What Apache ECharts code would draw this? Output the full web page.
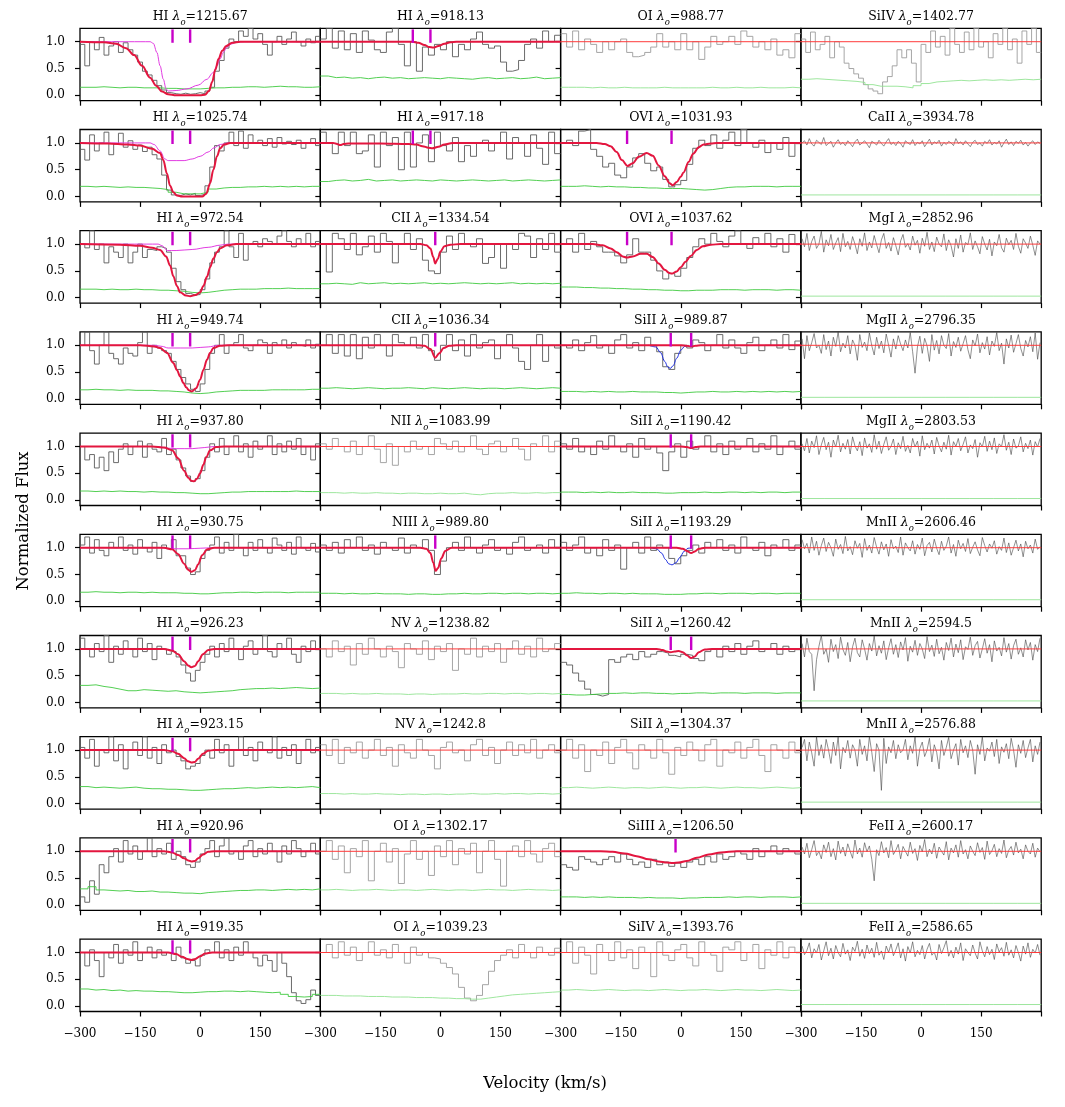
<!DOCTYPE html>
<html>
<head>
<meta charset="utf-8">
<script src="https://cdn.jsdelivr.net/npm/echarts@6/dist/echarts.min.js"></script>
<style>
  html, body { margin: 0; padding: 0; background: #fff; }
  #chart { width: 1065px; height: 1107px; }
</style>
</head>
<body>
<div id="chart"></div>
<script>
// flux values are in percent of continuum; bins run evenly from -300 to +300 km/s
// ---- column 1 : HI series ----
const flux_HI1215 = [95,55,100,85,108,75,92,100,80,98, 85,75,62,45,38,28,18,10,5,3, 2,4,2,3,5,3,8,15,45,65, 88,105,100,120,110,125,105,115,95,75, 100,110,95,105,118,100,92,105,98,110];
const err_HI1215 = [15,15,16,15,14,15,15,14,14,14,13,13,12,12,12,13,14,14,15,15,16,16,15,16,17,16,16,15,15,16];
const fit_HI1215 = [[-300,100],[-240,99],[-210,96],[-185,88],[-165,75],[-145,55],[-125,33],[-110,18],[-95,7],[-80,2],[-60,0],[0,0],[12,1],[22,8],[30,25],[38,48],[46,68],[55,83],[65,92],[80,98],[100,100],[300,100]];
const comp_HI1215 = [[-300,100],[-125,100],[-117,97],[-108,80],[-100,55],[-92,30],[-85,12],[-80,8],[-60,9],[-33,12],[-5,19],[17,30],[32,42],[42,55],[50,68],[58,80],[66,89],[75,95],[90,99],[110,100],[300,100]];

const flux_HI1025 = [88,68,115,85,100,120,78,98,118,92, 104,88,96,84,92,78,70,40,12,3, 2,5,3,6,2,4,20,55,95,85, 100,120,95,122,90,115,100,105,95,108, 92,110,98,103,97,105,90,100,108,95];
const err_HI1025 = [19,18,19,18,17,18,17,17,16,15,13,8,5,5,5,8,14,16,17,17,18,18,19,18,19,18,19,18,19,19];
const fit_HI1025 = [[-300,100],[-230,99],[-180,97],[-150,95],[-120,89],[-100,81],[-92,68],[-83,43],[-75,20],[-67,8],[-58,2],[-45,0],[5,0],[15,5],[25,25],[33,50],[42,75],[50,90],[60,97],[75,100],[300,100]];
const comp_HI1025 = [[-300,100],[-125,100],[-115,97],[-100,85],[-88,70],[-80,67],[-40,67],[-20,70],[0,75],[20,83],[35,91],[50,97],[70,100],[300,100]];

const flux_HI972 = [100,93,125,90,100,65,95,85,75,100, 65,85,100,75,90,88,95,92,85,55, 30,15,8,5,6,15,35,65,85,95, 125,95,75,120,70,100,105,95,110,105, 100,115,125,105,95,110,100,120,95,105];
const err_HI972 = [16,16,15,16,15,15,16,15,15,14,14,13,12,10,9,10,12,14,15,16,16,16,17,17,17,18,17,17,17,17];
const fit_HI972 = [[-300,100],[-200,99],[-150,97],[-120,93],[-100,89],[-85,77],[-75,60],[-67,40],[-58,22],[-50,10],[-35,4],[-25,3],[-12,5],[0,10],[8,22],[17,39],[25,57],[33,73],[42,85],[50,92],[67,98],[90,100],[300,100]];
const comp_HI972 = [[-300,100],[-105,100],[-95,97],[-82,88],[-60,88],[-20,90],[20,94],[50,98],[70,100],[300,100]];

const flux_HI949 = [100,125,90,65,100,125,85,75,65,95, 85,80,105,125,85,100,95,90,85,70, 55,40,28,18,14,28,55,85,100,120, 85,100,105,120,95,90,100,110,105,85, 105,100,110,95,105,100,98,110,95,102];
const err_HI949 = [17,18,17,17,16,17,16,16,16,15,15,14,13,11,10,11,13,14,15,16,16,16,16,17,17,17,17,17,18,18];
const fit_HI949 = [[-300,100],[-150,100],[-115,98],[-100,95],[-83,86],[-67,67],[-58,54],[-50,42],[-42,30],[-35,22],[-28,16],[-21,14],[-10,20],[0,36],[8,54],[17,73],[25,86],[33,95],[50,99],[70,100],[300,100]];
const comp_HI949 = [[-300,100],[-115,100],[-95,98],[-80,95],[-20,95],[20,97],[45,100],[300,100]];

const flux_HI937 = [100,75,85,60,80,55,90,70,95,105, 85,100,110,80,105,95,90,115,85,95, 75,60,45,35,40,55,80,105,90,115, 85,100,120,90,105,80,110,95,100,120, 85,105,90,110,95,115,85,100,75,105];
const err_HI937 = [17,16,17,16,17,16,16,15,16,15,15,14,14,13,12,12,13,14,15,15,16,16,16,16,16,16,17,16,16,16];
const fit_HI937 = [[-300,100],[-120,100],[-90,98],[-70,93],[-55,78],[-40,55],[-30,42],[-22,36],[-15,35],[-8,40],[0,50],[8,66],[15,80],[25,93],[40,99],[60,100],[300,100]];
const comp_HI937 = [[-300,100],[-105,100],[-85,97],[-60,96],[-20,96],[10,98],[35,100],[300,100]];

const flux_HI930 = [105,120,90,115,95,85,110,100,120,95, 105,88,115,100,92,110,80,105,98,115, 85,85,62,50,55,80,95,105,120,90, 110,95,125,100,85,110,95,115,100,90, 118,105,95,110,88,120,100,95,108,92];
const err_HI930 = [17,18,17,17,16,17,17,16,17,16,16,16,15,15,14,14,15,16,16,17,17,16,17,17,17,16,17,17,17,17];
const fit_HI930 = [[-300,100],[-90,100],[-70,97],[-55,88],[-40,70],[-30,59],[-22,55],[-13,58],[-5,69],[5,86],[18,97],[35,100],[300,100]];
const comp_HI930 = [[-300,100],[-95,100],[-80,98],[-30,98],[0,99],[30,100],[300,100]];

const flux_HI926 = [120,100,85,110,95,125,75,105,90,115, 100,85,120,95,110,80,105,100,90,95, 85,70,55,40,60,75,90,105,85,110, 95,120,100,80,105,115,90,100,125,95, 85,110,100,120,90,75,105,95,115,100];
const err_HI926 = [32,33,30,28,25,22,22,24,23,22,21,22,20,19,18,19,20,21,22,24,25,26,26,27,26,27,28,27,26,27];
const fit_HI926 = [[-300,100],[-90,100],[-70,97],[-55,90],[-40,77],[-30,69],[-22,66],[-13,68],[-5,77],[7,90],[20,98],[35,100],[300,100]];

const flux_HI923 = [105,85,120,70,100,95,125,80,110,65, 100,115,90,125,85,105,75,110,95,100, 88,80,65,70,75,90,100,85,120,95, 110,70,100,125,90,105,80,115,100,95, 125,85,105,90,110,75,100,120,95,105];
const err_HI923 = [32,30,31,30,29,30,31,29,28,28,27,27,26,25,25,26,27,28,28,29,30,29,30,31,30,31,30,31,32,30];
const fit_HI923 = [[-300,100],[-90,100],[-70,98],[-55,93],[-40,85],[-30,79],[-22,77],[-13,78],[-5,84],[7,93],[20,99],[35,100],[300,100]];

const flux_HI920 = [15,5,45,20,75,60,90,105,80,120, 95,110,85,100,125,90,105,95,115,85, 100,90,75,70,80,95,105,120,90,110, 125,95,100,85,110,120,90,105,95,115, 100,80,110,95,120,105,90,100,115,95];
const err_HI920 = [30,34,28,27,26,27,25,25,26,24,24,23,22,22,21,23,24,25,26,27,27,28,28,27,28,29,28,29,28,30];
const fit_HI920 = [[-300,100],[-90,100],[-70,98],[-55,93],[-40,87],[-30,83],[-22,81],[-13,82],[-5,87],[7,94],[20,99],[35,100],[300,100]];

const flux_HI919 = [100,75,105,85,55,100,90,115,80,105, 95,120,85,100,110,90,105,95,100,85, 110,90,80,85,75,95,105,100,120,90, 105,85,110,95,120,100,90,75,95,85, 65,100,80,55,25,10,5,12,30,20];
const err_HI919 = [32,30,31,29,30,28,29,28,28,27,27,26,25,25,26,27,27,28,28,27,28,27,26,25,26,22,18,17,18,22];
const fit_HI919 = [[-300,100],[-80,100],[-60,97],[-45,92],[-32,88],[-22,86],[-12,88],[0,93],[12,98],[30,100],[300,100]];

// ---- column 2 ----
const flux_HI918 = [105,125,88,120,85,115,80,120,103,85, 80,118,125,95,55,100,45,90,75,95, 85,100,72,95,85,105,118,95,88,92, 62,45,48,65,95,105,88,120,100,112];
const err_HI918 = [36,33,34,32,33,31,33,34,32,33,31,32,33,32,31,33,32,31,30,32,33,31,32,33,31,32,34,31,32,33];
const fit_HI918 = [[-300,100],[-70,100],[-55,98],[-40,94],[-28,90],[-18,89],[-5,92],[10,96],[25,99],[40,100],[300,100]];

const flux_HI917 = [120,100,80,120,95,120,80,85,115,55, 120,95,110,50,120,55,100,115,65,120, 95,85,110,65,95,75,100,105,85,100, 120,70,110,100,75,115,90,60,120,80];
const err_HI917 = [28,30,31,29,30,32,29,30,31,29,30,31,30,29,31,30,29,30,31,30,29,30,31,29,30,31,30,29,30,31];
const fit_HI917 = [[-300,100],[-268,100],[-258,98],[-250,96],[-242,98],[-230,99],[-150,99],[-80,98],[-60,97],[-45,94],[-30,91],[-20,90],[-5,93],[10,97],[30,100],[300,100]];

const flux_CII1334 = [100,48,120,110,90,120,80,95,115,85, 120,105,65,100,120,90,110,70,50,45, 85,115,90,120,100,95,110,64,75,100, 55,100,90,120,115,75,110,90,120,85];
const err_CII1334 = [26,27,26,25,28,26,27,28,26,27,26,27,28,26,27,26,27,28,27,26,27,26,27,28,26,27,26,27,26,27];
const fit_CII1334 = [[-300,100],[-50,100],[-35,98],[-25,92],[-18,76],[-13,64],[-7,72],[0,86],[10,96],[25,99],[50,100],[300,100]];

const flux_CII1036 = [100,120,85,120,80,120,75,115,95,120, 100,80,120,105,100,115,95,120,90,72, 100,120,90,110,80,120,95,105,110,75, 100,120,95,70,55,100,120,70,100,95];
const err_CII1036 = [20,21,20,19,20,21,20,19,20,20,21,20,19,21,20,19,20,21,20,19,20,20,19,20,21,20,19,20,21,20];
const fit_CII1036 = [[-300,100],[-55,100],[-40,99],[-25,93],[-13,77],[-3,85],[8,95],[22,99],[40,100],[300,100]];

const flux_NII1083 = [105,95,115,100,90,110,85,100,120,95, 70,105,65,100,90,110,95,100,85,115, 105,95,110,90,100,120,95,85,105,110, 90,100,115,95,75,105,100,120,90,110];
const err_NII1083 = [14,14,13,14,13,13,14,13,13,12,13,13,12,12,13,12,12,13,11,10,12,13,13,14,13,13,14,13,14,14];

const flux_NIII989 = [105,95,110,90,115,100,120,95,105,88, 110,100,95,118,90,105,100,115,95,50, 75,100,110,95,120,100,90,105,115,95, 100,88,110,120,95,100,105,90,115,100];
const err_NIII989 = [15,15,14,15,14,14,15,14,14,14,13,14,14,13,13,14,14,15,14,14,15,15,14,15,15,14,15,15,14,15];
const fit_NIII989 = [[-300,100],[-50,100],[-35,98],[-25,90],[-18,72],[-12,57],[-6,62],[2,80],[12,94],[28,100],[300,100]];

const flux_NV1238 = [100,85,115,95,105,70,110,90,120,100, 85,105,95,65,110,100,90,115,80,105, 95,110,60,100,90,120,85,105,95,110, 75,100,115,90,105,85,120,95,100,110];
const err_NV1238 = [17,17,16,17,16,16,17,16,16,16,15,16,16,15,16,16,16,17,16,16,17,17,16,17,17,16,17,17,16,17];

const flux_NV1242 = [110,90,120,75,105,95,115,85,100,120, 90,105,70,110,95,85,120,100,90,65, 105,115,95,100,80,110,120,90,105,75, 100,115,90,110,95,120,85,100,110,95];
const err_NV1242 = [19,19,18,19,18,18,19,18,18,17,18,18,17,18,18,17,18,18,19,18,18,19,18,19,19,18,19,19,18,19];

const flux_OI1302 = [100,120,85,110,60,105,90,120,45,100, 115,80,105,40,95,120,85,100,55,110, 90,120,75,105,95,115,60,100,120,85, 35,100,110,90,120,95,80,105,115,90];
const err_OI1302 = [28,29,28,27,28,28,29,28,27,28,28,27,28,29,28,27,28,28,27,28,29,28,28,27,28,29,28,28,27,28];

const flux_OI1039 = [100,115,90,120,95,110,85,100,120,95, 105,90,115,100,80,110,95,100,90,88, 80,72,60,35,15,10,20,40,65,85, 95,105,90,115,100,90,110,100,95,108];
const err_OI1039 = [20,20,19,19,19,18,18,18,17,17,17,16,16,16,15,15,14,14,13,13,15,17,19,21,22,23,24,25,26,27];

// ---- column 3 ----
const flux_OI988 = [115,90,120,85,105,95,80,100,85,100, 105,80,72,75,80,90,115,90,100,85, 115,85,100,67,90,110,95,100,110,95, 120,110,90,100,85,105,75,85,70,115];
const err_OI988 = [15,15,15,14,15,14,14,15,14,14,14,14,15,14,14,14,14,14,15,14,14,15,14,14,15,14,14,14,15,14];

const flux_OVI1031 = [100,105,95,122,125,88,75,55,62,40, 35,55,72,80,62,48,55,32,18,22, 30,60,90,105,95,115,90,105,120,95, 125,100,92,105,82,100,88,110,75,100];
const err_OVI1031 = [19,19,20,19,18,19,18,18,17,17,16,16,15,15,15,14,13,12,13,15,17,18,18,19,19,19,18,19,19,19];
const fit_OVI1031 = [[-300,100],[-210,100],[-190,98],[-175,94],[-160,83],[-147,68],[-133,57],[-120,62],[-105,74],[-85,81],[-70,76],[-55,58],[-40,38],[-28,25],[-20,21],[-10,27],[0,37],[7,45],[20,65],[31,80],[45,92],[57,97],[75,99],[90,100],[300,100]];

const flux_OVI1037 = [100,110,85,120,90,105,95,85,85,78, 65,80,110,85,85,70,50,35,45,40, 55,75,95,110,100,120,105,95,115,125, 100,92,112,100,120,95,110,85,118,100];
const err_OVI1037 = [20,20,19,19,18,18,17,17,16,16,15,15,14,14,13,13,14,14,14,15,15,15,14,15,15,15,14,15,15,14];
const fit_OVI1037 = [[-300,100],[-220,100],[-195,98],[-175,92],[-160,85],[-145,77],[-135,75],[-120,77],[-100,82],[-85,82],[-70,76],[-55,64],[-40,52],[-28,46],[-22,45],[-10,49],[0,57],[12,67],[25,78],[40,89],[55,96],[75,99],[100,100],[300,100]];

const flux_SiII989 = [100,95,110,90,105,118,95,100,85,110, 120,95,105,90,115,100,88,60,55,85, 100,95,110,105,90,100,120,95,110,95, 85,105,115,90,100,110,95,120,92,108];
const err_SiII989 = [14,14,13,14,13,14,13,13,14,13,13,13,12,12,11,12,13,13,14,13,13,14,13,14,13,14,13,14,13,14];
const fit_SiII989 = [[-300,100],[0,100],[15,99],[26,98],[37,99],[50,100],[300,100]];
const blue_SiII989 = [[-80,100],[-62,97],[-50,86],[-40,70],[-32,59],[-26,57],[-19,62],[-10,76],[0,91],[10,98],[20,100]];

const flux_SiII1190 = [105,95,115,90,100,85,110,95,120,100, 90,105,80,115,95,100,88,55,90,105, 80,110,95,100,120,90,105,85,110,95, 100,115,90,105,95,120,85,100,110,95];
const err_SiII1190 = [15,15,14,15,14,15,14,14,15,14,14,14,13,13,14,14,14,15,14,14,15,15,14,15,14,15,15,14,15,15];
const fit_SiII1190 = [[-300,100],[0,100],[15,99],[26,97],[37,99],[50,100],[300,100]];

const flux_SiII1193 = [110,95,105,120,90,100,85,115,95,105, 60,100,110,90,120,95,105,100,80,70, 85,95,105,90,110,100,115,95,105,90, 120,100,95,110,85,105,100,115,95,105];
const err_SiII1193 = [15,16,15,15,14,15,15,14,15,14,14,14,13,13,13,14,14,15,15,14,15,15,15,14,15,15,14,15,15,15];
const fit_SiII1193 = [[-300,100],[-10,100],[5,98],[15,94],[26,90],[35,93],[45,98],[60,100],[300,100]];
const blue_SiII1193 = [[-75,100],[-60,98],[-48,90],[-38,78],[-30,70],[-22,68],[-12,72],[-2,82],[8,93],[18,99],[28,100]];

const flux_SiII1260 = [75,70,55,40,25,15,12,15,80,75, 85,90,80,95,85,90,95,92,88,85, 90,88,82,78,95,100,85,105,95,110, 90,105,115,95,100,110,90,105,95,100];
const err_SiII1260 = [15,14,14,15,16,17,17,18,17,18,18,17,17,16,17,17,18,18,17,18,18,18,17,18,18,18,17,18,18,18];
const fit_SiII1260 = [[-300,100],[-60,100],[-45,98],[-35,95],[-25,94],[-15,95],[-5,96],[5,94],[15,88],[26,83],[35,86],[45,94],[60,99],[80,100],[300,100]];

const flux_SiII1304 = [100,120,85,110,60,100,90,115,75,105, 120,95,65,110,100,85,120,95,55,105, 90,115,100,80,110,120,70,100,95,115, 85,105,120,90,60,110,100,85,115,95];
const err_SiII1304 = [30,31,30,29,30,31,30,29,30,30,29,30,31,30,29,30,30,31,30,29,30,31,30,30,29,30,31,30,29,30];

const flux_SiIII1206 = [75,70,65,90,85,80,75,85,90,80, 95,85,75,80,70,85,75,80,72,78, 70,80,85,75,90,80,95,85,90,100, 95,85,105,90,100,110,95,105,100,95];
const err_SiIII1206 = [15,15,14,15,14,15,14,14,14,13,14,13,13,13,12,13,13,14,14,14,15,14,15,15,14,15,15,15,14,15];
const fit_SiIII1206 = [[-300,100],[-200,100],[-170,99],[-140,96],[-110,91],[-80,85],[-55,81],[-35,79],[-20,78],[-5,79],[15,82],[40,88],[70,94],[100,98],[140,100],[300,100]];

const flux_SiIV1393 = [100,120,80,110,95,60,115,100,85,120, 90,105,70,110,100,55,120,95,85,105, 115,90,75,120,100,95,65,110,105,120, 85,100,115,70,105,95,120,90,110,100];
const err_SiIV1393 = [30,31,30,29,30,31,30,29,30,30,29,30,31,30,29,30,30,31,30,29,30,31,30,30,29,30,31,30,29,30];

// ---- column 4 ----
const flux_SiIV1402 = [105,80,118,85,95,110,70,100,90,60, 50,40,32,20,12,8,3,25,35,55, 85,70,85,60,25,95,80,120,90,110, 75,125,95,80,118,85,125,90,100,70, 115,95,125,85,105,60,120,95,125,80];
const err_SiIV1402 = [30,31,30,29,28,27,26,24,20,17,17,17,16,14,18,22,25,26,27,28,27,28,29,28,29,28,29,30,29,30];

const flux_CaII3934 = [100,104,96,108,98,94,105,101,97,110, 95,99,103,92,100,106,97,101,95,104, 99,93,102,107,96,100,104,98,91,103, 100,96,105,99,94,102,108,97,101,95, 103,99,92,104,100,97,106,95,101,98, 104,93,100,107,96,102,99,105,94,101, 97,103,100,95,108,99,102,96,104,98, 93,101,105,97,100,94,103,99,106,96, 101,98,104,92,100,107,97,102,95,103, 99,105,96,101,94,100,104,97,102,99];
const err_CaII3934 = [3,3,3,3,3,3,3,3,3,3];

const flux_MgI2852 = [110,95,120,88,105,115,92,100,124,85, 108,97,118,90,102,112,86,120,95,105, 90,114,100,82,110,96,121,88,104,93, 116,99,84,108,120,92,103,87,112,97, 80,106,118,94,101,89,115,98,107,83, 111,96,122,90,104,86,113,100,95,119, 88,108,97,76,110,92,117,85,103,99, 121,90,106,95,82,114,100,89,109,78, 104,97,118,93,85,111,99,107,90,120, 96,83,110,102,92,115,98,79,106,100];
const err_MgI2852 = [3,3,3,3,3,3,3,3,3,3];

const flux_MgII2796 = [112,75,118,90,105,122,95,100,85,120, 92,108,80,115,98,125,88,104,95,118, 84,110,100,72,120,96,106,90,123,99, 82,115,94,108,86,121,100,78,112,93, 118,102,90,110,95,124,88,48,97,117, 85,113,99,70,120,91,109,84,118,100, 94,122,80,107,96,115,89,103,118,92, 75,110,99,121,86,105,93,116,82,108, 98,124,90,104,65,112,95,119,87,103, 120,94,80,109,97,116,88,123,74,105];
const err_MgII2796 = [3,3,3,3,3,3,3,3,3,3];

const flux_MgII2803 = [105,92,115,88,110,98,120,85,103,117, 94,108,80,112,99,121,90,106,95,113, 86,118,101,92,109,83,116,97,105,89, 122,95,110,87,104,118,93,100,114,85, 107,96,119,91,102,88,115,99,110,82, 120,94,106,97,112,86,117,101,90,108, 95,121,84,109,100,115,92,104,118,88, 103,96,113,80,107,99,119,91,110,94, 116,87,105,100,122,93,108,85,114,97, 101,118,90,106,96,112,84,109,99,115];
const err_MgII2803 = [3,3,3,3,3,3,3,3,3,3];

const flux_MnII2606 = [115,98,108,90,120,95,112,86,104,118, 93,110,100,84,116,97,106,89,121,94, 102,87,113,99,108,82,117,95,105,90, 119,101,88,111,96,107,84,115,98,103, 91,120,86,109,100,94,113,88,106,97, 118,85,104,110,92,116,99,87,112,95, 103,120,90,106,84,114,98,108,93,117, 89,101,111,96,85,119,104,92,107,99, 113,88,102,95,118,91,109,86,100,114, 94,107,83,112,98,105,90,116,97,102];
const err_MnII2606 = [3,3,3,3,3,3,3,3,3,3];

const flux_MnII2594 = [110,85,120,95,90,22,80,105,125,90, 100,75,118,95,108,82,122,99,88,112, 76,104,120,93,85,117,100,79,110,96, 124,87,106,92,115,80,102,119,90,108, 84,113,98,121,77,105,94,116,88,110, 100,82,123,95,107,86,118,91,103,79, 112,97,120,85,109,93,117,80,104,99, 122,88,106,114,83,100,119,92,108,76, 115,96,103,87,121,94,110,81,106,118, 90,102,85,117,98,112,79,108,95,120];
const err_MnII2594 = [3,3,3,3,3,3,3,3,3,3];

const flux_MnII2576 = [105,120,80,115,95,70,125,90,110,85, 120,100,75,115,90,125,65,105,95,118, 85,110,100,70,120,92,108,80,125,96, 60,112,100,25,122,75,106,95,118,84, 110,95,100,120,82,108,94,125,70,103, 115,88,100,122,78,110,96,65,118,90, 105,124,84,100,112,72,120,95,108,86, 118,100,55,110,92,125,80,104,98,115, 88,120,75,106,96,112,84,122,100,68, 110,94,118,86,104,120,78,108,92,115];
const err_MnII2576 = [3,3,3,3,3,3,3,3,3,3];

const flux_FeII2600 = [108,95,115,88,103,120,92,100,86,112, 98,117,90,105,84,119,96,108,91,114, 100,87,121,95,106,89,116,99,110,85, 45,103,92,118,97,107,88,120,94,102, 113,86,109,100,91,117,96,105,83,111, 99,122,90,104,95,115,87,108,100,93, 118,84,106,97,112,89,120,95,103,86, 110,100,92,116,98,107,85,119,94,101, 113,90,105,96,121,88,102,109,93,117, 97,104,86,112,100,95,115,89,106,99];
const err_FeII2600 = [3,3,3,3,3,3,3,3,3,3];

const flux_FeII2586 = [112,96,104,118,90,107,99,115,86,103, 120,94,108,88,113,100,92,117,97,105, 85,110,102,121,93,106,89,114,98,108, 91,119,95,103,87,112,100,116,94,105, 118,90,107,84,111,99,120,92,104,96, 113,88,106,117,95,101,86,115,98,109, 122,93,104,90,110,97,118,85,107,100, 94,114,99,88,120,103,92,111,96,106, 87,116,101,109,93,119,95,105,90,113, 100,84,112,97,118,91,106,99,115,95];
const err_FeII2586 = [3,3,3,3,3,3,3,3,3,3];

// component velocities marked with ticks
const ticks_HI = [-69, -25];
const ticks_low = [-13];
const ticks_OVI = [-134, -23];
const ticks_SiII = [-25, 26];

// panel table, row by row (ion, rest wavelength, data)
const panels = [
  { ion: 'HI', wave: '1215.67', flux: flux_HI1215, err: err_HI1215, fit: fit_HI1215, comps: [comp_HI1215], ticks: ticks_HI },
  { ion: 'HI', wave: '918.13', flux: flux_HI918, err: err_HI918, fit: fit_HI918, ticks: ticks_HI },
  { ion: 'OI', wave: '988.77', flux: flux_OI988, err: err_OI988 },
  { ion: 'SiIV', wave: '1402.77', flux: flux_SiIV1402, err: err_SiIV1402 },

  { ion: 'HI', wave: '1025.74', flux: flux_HI1025, err: err_HI1025, fit: fit_HI1025, comps: [comp_HI1025], ticks: ticks_HI },
  { ion: 'HI', wave: '917.18', flux: flux_HI917, err: err_HI917, fit: fit_HI917, ticks: ticks_HI },
  { ion: 'OVI', wave: '1031.93', flux: flux_OVI1031, err: err_OVI1031, fit: fit_OVI1031, ticks: ticks_OVI },
  { ion: 'CaII', wave: '3934.78', flux: flux_CaII3934, err: err_CaII3934, dense: true },

  { ion: 'HI', wave: '972.54', flux: flux_HI972, err: err_HI972, fit: fit_HI972, comps: [comp_HI972], ticks: ticks_HI },
  { ion: 'CII', wave: '1334.54', flux: flux_CII1334, err: err_CII1334, fit: fit_CII1334, ticks: ticks_low },
  { ion: 'OVI', wave: '1037.62', flux: flux_OVI1037, err: err_OVI1037, fit: fit_OVI1037, ticks: ticks_OVI },
  { ion: 'MgI', wave: '2852.96', flux: flux_MgI2852, err: err_MgI2852, dense: true },

  { ion: 'HI', wave: '949.74', flux: flux_HI949, err: err_HI949, fit: fit_HI949, comps: [comp_HI949], ticks: ticks_HI },
  { ion: 'CII', wave: '1036.34', flux: flux_CII1036, err: err_CII1036, fit: fit_CII1036, ticks: ticks_low },
  { ion: 'SiII', wave: '989.87', flux: flux_SiII989, err: err_SiII989, fit: fit_SiII989, blue: blue_SiII989, ticks: ticks_SiII },
  { ion: 'MgII', wave: '2796.35', flux: flux_MgII2796, err: err_MgII2796, dense: true },

  { ion: 'HI', wave: '937.80', flux: flux_HI937, err: err_HI937, fit: fit_HI937, comps: [comp_HI937], ticks: ticks_HI },
  { ion: 'NII', wave: '1083.99', flux: flux_NII1083, err: err_NII1083 },
  { ion: 'SiII', wave: '1190.42', flux: flux_SiII1190, err: err_SiII1190, fit: fit_SiII1190, ticks: ticks_SiII },
  { ion: 'MgII', wave: '2803.53', flux: flux_MgII2803, err: err_MgII2803, dense: true },

  { ion: 'HI', wave: '930.75', flux: flux_HI930, err: err_HI930, fit: fit_HI930, comps: [comp_HI930], ticks: ticks_HI },
  { ion: 'NIII', wave: '989.80', flux: flux_NIII989, err: err_NIII989, fit: fit_NIII989, ticks: ticks_low },
  { ion: 'SiII', wave: '1193.29', flux: flux_SiII1193, err: err_SiII1193, fit: fit_SiII1193, blue: blue_SiII1193, ticks: ticks_SiII },
  { ion: 'MnII', wave: '2606.46', flux: flux_MnII2606, err: err_MnII2606, dense: true },

  { ion: 'HI', wave: '926.23', flux: flux_HI926, err: err_HI926, fit: fit_HI926, ticks: ticks_HI },
  { ion: 'NV', wave: '1238.82', flux: flux_NV1238, err: err_NV1238 },
  { ion: 'SiII', wave: '1260.42', flux: flux_SiII1260, err: err_SiII1260, fit: fit_SiII1260, ticks: ticks_SiII },
  { ion: 'MnII', wave: '2594.5', flux: flux_MnII2594, err: err_MnII2594, dense: true },

  { ion: 'HI', wave: '923.15', flux: flux_HI923, err: err_HI923, fit: fit_HI923, ticks: ticks_HI },
  { ion: 'NV', wave: '1242.8', flux: flux_NV1242, err: err_NV1242 },
  { ion: 'SiII', wave: '1304.37', flux: flux_SiII1304, err: err_SiII1304 },
  { ion: 'MnII', wave: '2576.88', flux: flux_MnII2576, err: err_MnII2576, dense: true },

  { ion: 'HI', wave: '920.96', flux: flux_HI920, err: err_HI920, fit: fit_HI920, ticks: ticks_HI },
  { ion: 'OI', wave: '1302.17', flux: flux_OI1302, err: err_OI1302 },
  { ion: 'SiIII', wave: '1206.50', flux: flux_SiIII1206, err: err_SiIII1206, fit: fit_SiIII1206, ticks: ticks_low },
  { ion: 'FeII', wave: '2600.17', flux: flux_FeII2600, err: err_FeII2600, dense: true },

  { ion: 'HI', wave: '919.35', flux: flux_HI919, err: err_HI919, fit: fit_HI919, ticks: ticks_HI },
  { ion: 'OI', wave: '1039.23', flux: flux_OI1039, err: err_OI1039 },
  { ion: 'SiIV', wave: '1393.76', flux: flux_SiIV1393, err: err_SiIV1393 },
  { ion: 'FeII', wave: '2586.65', flux: flux_FeII2586, err: err_FeII2586, dense: true }
];

const SERIF = '"DejaVu Serif", "Liberation Serif", serif';
const LEFT0 = 80, COL_W = 240.3, TOP0 = 28.3, ROW_STEP = 101.2, PANEL_H = 72.4;
const NROWS = 10;

// histogram -> points for a step line (value holds over each bin)
function toSteps(vals) {
  const dv = 600 / vals.length;
  const pts = vals.map((f, i) => [-300 + i * dv, f / 100]);
  pts.push([300, vals[vals.length - 1] / 100]);
  return pts;
}
// dense spectra: one point per pixel centre
function toPixels(vals) {
  const dv = 600 / vals.length;
  return vals.map((f, i) => [-300 + (i + 0.5) * dv, f / 100]);
}
function toCurve(pairs) {
  return pairs.map(p => [p[0], p[1] / 100]);
}
function minus(v) {
  return String(v).replace('-', '\u2212');
}

const grids = [], xAxes = [], yAxes = [], titles = [], series = [];

panels.forEach((p, i) => {
  const row = Math.floor(i / 4), col = i % 4;
  const left = LEFT0 + col * COL_W;
  const top = TOP0 + row * ROW_STEP;
  const hasFit = !!p.fit;

  grids.push({ left: left, top: top, width: COL_W, height: PANEL_H, show: true,
    borderColor: '#000', borderWidth: 1.3, backgroundColor: 'transparent', containLabel: false });

  xAxes.push({
    type: 'value', gridIndex: i, min: -300, max: 300,
    axisLine: { show: false, onZero: false },
    axisTick: { show: true, customValues: [-300, -150, 0, 150, 300], length: 5,
      lineStyle: { color: '#000', width: 1.2 } },
    axisLabel: { show: row === NROWS - 1, customValues: [-300, -150, 0, 150],
      formatter: v => minus(v), fontFamily: SERIF, fontSize: 12, color: '#000', margin: 16 },
    splitLine: { show: false }
  });
  yAxes.push({
    type: 'value', gridIndex: i, min: -0.1, max: 1.25,
    axisLine: { show: false, onZero: false },
    axisTick: { show: true, customValues: [0, 0.5, 1], length: 5,
      lineStyle: { color: '#000', width: 1.2 } },
    axisLabel: { show: col === 0, customValues: [0, 0.5, 1],
      formatter: v => v.toFixed(1), fontFamily: SERIF, fontSize: 12, color: '#000', margin: 15 },
    splitLine: { show: false }
  });

  titles.push({
    text: '{a|' + p.ion + ' }{l|\u03bb}{s|o}{a|=' + p.wave + '}',
    left: left + COL_W / 2, top: top - 19, textAlign: 'center', padding: 0,
    textStyle: {
      fontWeight: 'normal',
      rich: {
        a: { fontFamily: SERIF, fontSize: 12.5, fontWeight: 'normal', color: '#000', lineHeight: 15, verticalAlign: 'middle' },
        l: { fontFamily: SERIF, fontSize: 12.5, fontWeight: 'normal', fontStyle: 'italic', color: '#000', lineHeight: 15, verticalAlign: 'middle' },
        s: { fontFamily: SERIF, fontSize: 8.5, fontWeight: 'normal', fontStyle: 'italic', color: '#000', lineHeight: 8, verticalAlign: 'top', padding: [9, 0, 0, 0] }
      }
    }
  });

  const base = { xAxisIndex: i, yAxisIndex: i, type: 'line', showSymbol: false, silent: true, animation: false };

  // observed flux
  if (p.dense) {
    series.push(Object.assign({}, base, { data: toPixels(p.flux),
      lineStyle: { color: '#444', width: 0.6 }, z: 2 }));
  } else {
    series.push(Object.assign({}, base, { data: toSteps(p.flux), step: 'end',
      lineStyle: { color: hasFit ? '#5a5a5a' : '#9c9c9c', width: 0.9 }, z: 2 }));
  }

  // error spectrum
  series.push(Object.assign({}, base, { data: toSteps(p.err), step: 'end',
    lineStyle: { color: hasFit ? '#3fc93f' : '#93e393', width: 0.9 }, z: 3 }));

  // component profiles
  (p.comps || []).forEach(c => {
    series.push(Object.assign({}, base, { data: toCurve(c), smooth: 0.35, smoothMonotone: 'x',
      lineStyle: { color: '#e23ce2', width: 1 }, z: 4 }));
  });
  if (p.blue) {
    series.push(Object.assign({}, base, { data: toCurve(p.blue), smooth: 0.35, smoothMonotone: 'x',
      lineStyle: { color: '#2030e0', width: 1 }, z: 4 }));
  }

  // total model (or flat continuum where no fit)
  if (hasFit) {
    series.push(Object.assign({}, base, { data: toCurve(p.fit), smooth: 0.35, smoothMonotone: 'x',
      lineStyle: { color: '#e3163f', width: 2 }, z: 5 }));
  } else {
    series.push(Object.assign({}, base, { data: [[-300, 1], [300, 1]],
      lineStyle: { color: '#ff3a3a', width: 1 }, z: 5 }));
  }

  // component tick marks
  (p.ticks || []).forEach(v => {
    series.push(Object.assign({}, base, { data: [[v, 0.98], [v, 1.23]],
      lineStyle: { color: '#c800c8', width: 2.4 }, z: 6 }));
  });
});

const chart = echarts.init(document.getElementById('chart'));
chart.setOption({
  backgroundColor: '#fff',
  animation: false,
  title: titles,
  grid: grids,
  xAxis: xAxes,
  yAxis: yAxes,
  series: series,
  graphic: [
    { type: 'text', x: 24, y: 521, rotation: Math.PI / 2,
      style: { text: 'Normalized Flux', font: '16.5px "DejaVu Serif"', fill: '#000', align: 'center', verticalAlign: 'middle' } },
    { type: 'text', x: 545, y: 1084,
      style: { text: 'Velocity (km/s)', font: '16.5px "DejaVu Serif"', fill: '#000', align: 'center', verticalAlign: 'middle' } }
  ]
});
</script>
</body>
</html>
